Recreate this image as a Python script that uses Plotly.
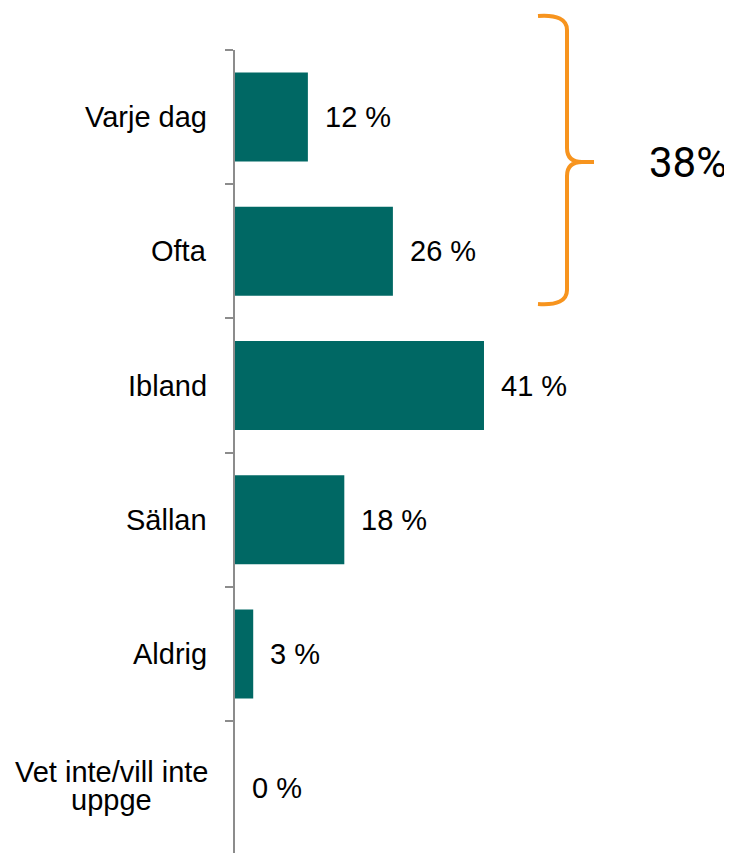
import plotly.graph_objects as go

categories = ["Varje dag", "Ofta", "Ibland", "Sällan", "Aldrig", "Vet inte/vill inte<br>uppge"]
values = [12, 26, 41, 18, 3, 0]
value_labels = ["12 %", "26 %", "41 %", "18 %", "3 %", "0 %"]
bracket_label = "38%"

OFF = 8  # page body margin
W, H = 732 - OFF, 853 - OFF
ML, MR, MT, MB = 235 - OFF, 0, 50 - OFF, 0
PW, PH = W - ML - MR, H - MT - MB
PX_PER_UNIT = 6.073
CAT_PX = 134.2

BAR_COLOR = "#006864"
ORANGE = "#F7941E"
AXIS_GRAY = "#8C8C8C"
FONT = "Liberation Sans, Arial, sans-serif"
FS = 29

# Arial/Liberation Sans advance widths (per em) used to centre wrapped label lines
CW = {" ": .278, "V": .667, "e": .556, "t": .278, "i": .222, "n": .556, "/": .278,
      "v": .5, "l": .222, "u": .556, "p": .556, "g": .556}


def text_w(s):
    return sum(CW.get(ch, .556) for ch in s) * FS


fig = go.Figure()
fig.add_trace(go.Bar(
    y=categories, x=values, orientation="h",
    marker=dict(color=BAR_COLOR, line=dict(width=0)),
    hoverinfo="skip", showlegend=False,
))

annotations = []
for c, v, t in zip(categories, values, value_labels):
    annotations.append(dict(x=v, y=c, xref="x", yref="y", text=t, showarrow=False,
                            xanchor="left", yanchor="middle", xshift=15,
                            font=dict(family=FONT, size=FS, color="#000000")))

LABEL_GAP = 26
LINE_H = 28
for c in categories:
    lines = c.split("<br>")
    n = len(lines)
    if n == 1:
        annotations.append(dict(x=0, y=c, xref="x", yref="y", text=c, showarrow=False,
                                xanchor="right", yanchor="middle", xshift=-LABEL_GAP,
                                font=dict(family=FONT, size=FS, color="#000000")))
    else:
        maxw = max(text_w(l) for l in lines)
        for j, line in enumerate(lines):
            annotations.append(dict(x=0, y=c, xref="x", yref="y", text=line, showarrow=False,
                                    xanchor="center", yanchor="middle",
                                    xshift=-LABEL_GAP - maxw / 2,
                                    yshift=((n - 1) / 2 - j) * LINE_H + 2,
                                    font=dict(family=FONT, size=FS, color="#000000")))


def px(x):
    return (x - OFF - ML) / PW


def py(y):
    return (H - MB - (y - OFF)) / PH


pts = [
    ("M", 538, 16), ("Q", 567, 14, 567, 30), ("L", 567, 148), ("Q", 567, 162, 582, 162), ("L", 594, 162),
    ("M", 582, 162), ("Q", 567, 162, 567, 176), ("L", 567, 290), ("Q", 567, 306, 538, 304),
]
path = ""
for p in pts:
    coords = p[1:]
    s = [f"{px(coords[i]):.5f},{py(coords[i + 1]):.5f}" for i in range(0, len(coords), 2)]
    path += p[0] + " " + " ".join(s) + " "

shapes = [dict(type="path", xref="paper", yref="paper", path=path.strip(),
               line=dict(color=ORANGE, width=4))]

annotations.append(dict(x=px(688), y=py(162), xref="paper", yref="paper", text=bracket_label,
                        showarrow=False, xanchor="center", yanchor="middle",
                        font=dict(family="Roboto, sans-serif", size=42, color="#000000")))

fig.update_layout(
    width=W, height=H,
    margin=dict(l=ML, r=MR, t=MT, b=MB, pad=0),
    paper_bgcolor="white", plot_bgcolor="white",
    bargap=0.337,
    xaxis=dict(range=[0, PW / PX_PER_UNIT], visible=False, fixedrange=True),
    yaxis=dict(type="category", categoryorder="array", categoryarray=categories,
               range=[-0.5 + PH / CAT_PX, -0.5],
               showline=True, linecolor=AXIS_GRAY, linewidth=2,
               ticks="outside", tickson="boundaries", ticklen=8, tickwidth=2, tickcolor=AXIS_GRAY,
               showticklabels=False, showgrid=False, zeroline=False, fixedrange=True),
    shapes=shapes,
    annotations=annotations,
    showlegend=False,
)

fig.write_html("out.html")
